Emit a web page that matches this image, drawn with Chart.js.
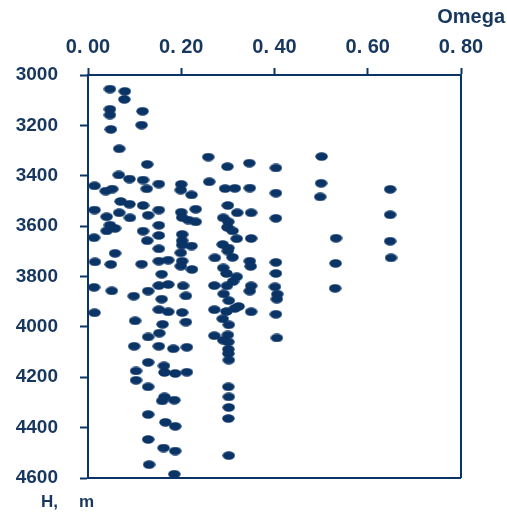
<!DOCTYPE html>
<html>
<head>
<meta charset="utf-8">
<script src="https://cdn.jsdelivr.net/npm/chart.js@4.4.1/dist/chart.umd.min.js"></script>
<style>
html,body{margin:0;padding:0;background:#fff;overflow:hidden;}
#c{display:block;}
</style>
</head>
<body>
<canvas id="c" width="507" height="516"></canvas>
<script>
// Omega values (x) and depth H, m (y)
const omega = [
0.047,0.079,0.078,0.047,0.047,0.117,0.049,0.115,0.067,0.127,
0.258,0.299,0.346,0.066,0.089,0.118,0.014,0.038,0.052,0.126,
0.152,0.200,0.199,0.222,0.260,0.294,0.315,0.347,0.403,0.501,
0.403,0.500,0.498,0.648,0.648,0.648,0.650,0.532,0.531,0.530,
0.070,0.089,0.118,0.152,0.014,0.040,0.067,0.090,0.129,0.200,
0.202,0.231,0.215,0.231,0.300,0.320,0.350,0.290,0.301,0.403,
0.047,0.040,0.058,0.013,0.118,0.152,0.152,0.127,0.202,0.202,
0.222,0.202,0.199,0.152,0.299,0.310,0.319,0.350,0.289,0.301,
0.300,0.058,0.015,0.049,0.115,0.152,0.172,0.202,0.199,0.223,
0.272,0.310,0.347,0.349,0.403,0.290,0.297,0.319,0.403,0.311,
0.158,0.013,0.051,0.098,0.129,0.152,0.172,0.204,0.210,0.158,
0.271,0.298,0.350,0.347,0.401,0.406,0.405,0.291,0.302,0.315,
0.323,0.297,0.271,0.350,0.403,0.152,0.172,0.202,0.014,0.101,
0.160,0.210,0.289,0.302,0.129,0.153,0.271,0.300,0.290,0.301,
0.405,0.099,0.152,0.183,0.212,0.301,0.301,0.302,0.129,0.163,
0.103,0.164,0.187,0.212,0.103,0.129,0.164,0.159,0.185,0.129,
0.166,0.187,0.129,0.162,0.187,0.131,0.185,0.301,0.302,0.302,
0.301,0.302
];
const depth = [
3056,3065,3097,3136,3159,3144,3216,3199,3293,3355,
3326,3364,3350,3397,3413,3417,3440,3461,3453,3452,
3433,3434,3457,3476,3424,3451,3450,3449,3369,3324,
3469,3430,3484,3454,3555,3660,3726,3648,3748,3847,
3502,3513,3518,3536,3536,3563,3547,3567,3557,3545,
3566,3533,3576,3583,3518,3547,3547,3567,3583,3569,
3596,3619,3609,3646,3620,3597,3637,3658,3633,3658,
3679,3675,3706,3690,3605,3619,3650,3649,3673,3687,
3699,3708,3742,3752,3751,3739,3735,3739,3759,3772,
3726,3724,3739,3760,3744,3766,3788,3801,3788,3820,
3791,3843,3857,3878,3858,3836,3832,3837,3877,3890,
3836,3837,3837,3858,3841,3870,3890,3869,3896,3927,
3919,3939,3932,3940,3950,3932,3940,3943,3944,3976,
3990,3981,3968,3992,4040,4025,4035,4032,4053,4060,
4044,4077,4077,4087,4081,4089,4106,4132,4141,4155,
4175,4181,4185,4180,4212,4238,4278,4294,4291,4348,
4379,4395,4447,4481,4493,4547,4585,4238,4278,4320,
4364,4511
];
const xTicks = [0, 0.2, 0.4, 0.6, 0.8];
const yTicks = [3000, 3200, 3400, 3600, 3800, 4000, 4200, 4400, 4600];
const xTitle = 'Omega';
const yTitleA = 'H,';
const yTitleB = 'm';

const NAVY = '#0b3466';
const TEXT = '#17375e';
const FONT = '"Liberation Sans", Arial, sans-serif';

// ellipse marker
const mk = document.createElement('canvas');
mk.width = 13; mk.height = 9;
const mctx = mk.getContext('2d');
mctx.fillStyle = NAVY;
mctx.beginPath();
mctx.ellipse(6.5, 4.5, 6.2, 4.2, 0, 0, Math.PI * 2);
mctx.fill();

const pts = omega.map((x, i) => ({x: x, y: depth[i]}));

const framePlugin = {
  id: 'frame',
  afterDraw(chart) {
    const {ctx, chartArea: a} = chart;
    ctx.save();
    ctx.strokeStyle = NAVY;
    ctx.lineWidth = 2;
    ctx.beginPath();
    ctx.moveTo(a.left, a.bottom);
    ctx.lineTo(a.right, a.bottom);
    ctx.moveTo(a.right, a.top);
    ctx.lineTo(a.right, a.bottom);
    ctx.stroke();
    ctx.fillStyle = TEXT;
    ctx.font = 'bold 20px ' + FONT;
    ctx.textBaseline = 'middle';
    ctx.textAlign = 'right';
    ctx.fillText(xTitle, 505, 17);
    ctx.font = 'bold 17px ' + FONT;
    ctx.textAlign = 'left';
    ctx.fillText(yTitleA, 41, 502);
    ctx.fillText(yTitleB, 79, 502);
    ctx.restore();
  }
};

new Chart(document.getElementById('c'), {
  type: 'scatter',
  data: {
    datasets: [{
      data: pts,
      pointStyle: mk,
      pointRadius: 6,
      pointHoverRadius: 6,
      backgroundColor: NAVY,
      borderColor: NAVY
    }]
  },
  options: {
    responsive: false,
    animation: false,
    events: [],
    layout: {padding: {left: 0, top: 0, right: 46, bottom: 38}},
    plugins: {legend: {display: false}, tooltip: {enabled: false}},
    scales: {
      x: {
        type: 'linear',
        position: 'top',
        min: 0, max: 0.8,
        afterBuildTicks(s) { s.ticks = xTicks.map(v => ({value: v})); },
        afterFit(s) { s.height = 75; },
        grid: {drawOnChartArea: false, drawTicks: true, tickLength: 7, tickColor: NAVY, tickWidth: 2},
        border: {display: true, color: NAVY, width: 2},
        ticks: {
          color: TEXT,
          font: {family: FONT, size: 20, weight: 'bold'},
          padding: 9,
          maxRotation: 0,
          callback: v => v.toFixed(2).replace('.', '. ')
        }
      },
      y: {
        type: 'linear',
        reverse: true,
        min: 3000, max: 4600,
        afterBuildTicks(s) { s.ticks = yTicks.map(v => ({value: v})); },
        afterFit(s) { s.width = 88; },
        grid: {drawOnChartArea: false, drawTicks: true, tickLength: 8, tickColor: NAVY, tickWidth: 2},
        border: {display: true, color: NAVY, width: 2},
        ticks: {
          color: TEXT,
          font: {family: FONT, size: 19, weight: 'bold'},
          padding: 22,
          callback: v => String(v)
        }
      }
    }
  },
  plugins: [framePlugin]
});
</script>
</body>
</html>
